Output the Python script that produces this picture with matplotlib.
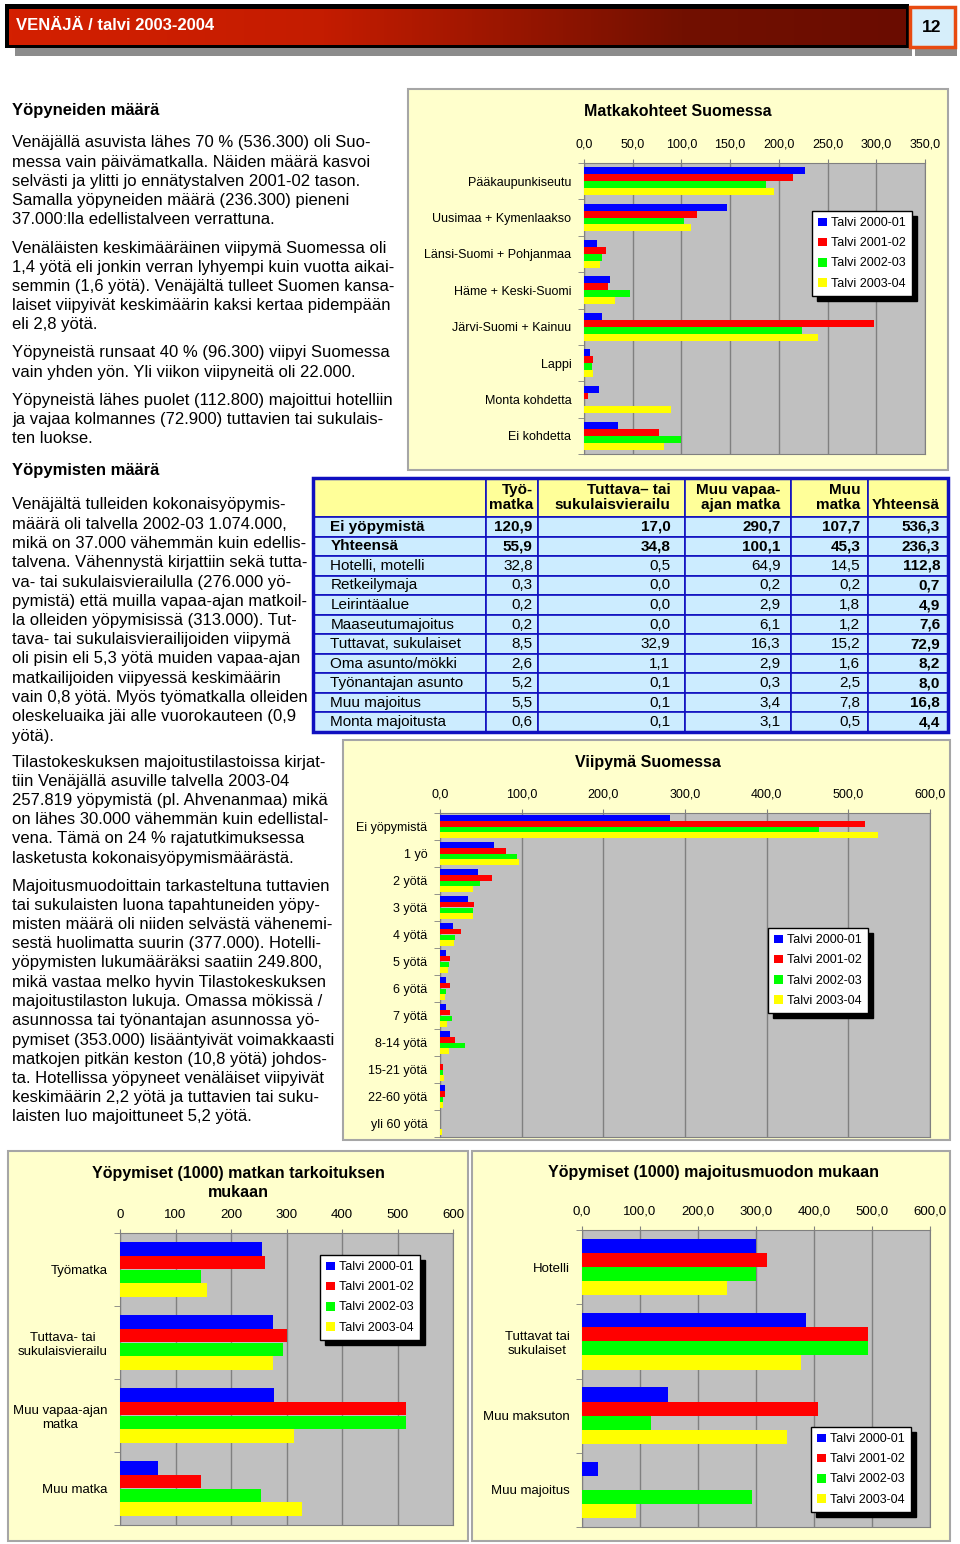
import numpy as np
import matplotlib
matplotlib.use('Agg')
import matplotlib.pyplot as plt
from matplotlib.patches import Rectangle
from matplotlib.colors import LinearSegmentedColormap
from matplotlib.ticker import FuncFormatter

plt.rcParams['font.family'] = ['Liberation Sans', 'DejaVu Sans']

W, H = 960, 1544

seasons = ['Talvi 2000-01', 'Talvi 2001-02', 'Talvi 2002-03', 'Talvi 2003-04']
season_colors = ['#0000FF', '#FF0000', '#00FF00', '#FFFF00']

# Matkakohteet Suomessa
dest_cats = ['Pääkaupunkiseutu', 'Uusimaa + Kymenlaakso', 'Länsi-Suomi + Pohjanmaa',
             'Häme + Keski-Suomi', 'Järvi-Suomi + Kainuu', 'Lappi', 'Monta kohdetta', 'Ei kohdetta']
dest_2000 = [226.6, 146.3, 13.8, 26.2, 18.4, 6.0, 15.2, 34.6]
dest_2001 = [214.6, 116.3, 23.0, 24.4, 297.3, 8.8, 4.6, 77.1]
dest_2002 = [187.3, 102.5, 18.0, 47.0, 223.4, 7.8, 0.0, 99.7]
dest_2003 = [195.1, 110.3, 16.6, 31.8, 240.0, 8.8, 89.8, 81.7]

# Viipymä Suomessa
stay_cats = ['Ei yöpymistä', '1 yö', '2 yötä', '3 yötä', '4 yötä', '5 yötä', '6 yötä',
             '7 yötä', '8-14 yötä', '15-21 yötä', '22-60 yötä', 'yli 60 yötä']
stay_2000 = [282.0, 66.6, 47.1, 34.2, 16.2, 7.1, 7.1, 7.1, 12.8, 0.0, 5.7, 0.0]
stay_2001 = [520.7, 80.8, 63.2, 41.4, 25.7, 12.8, 12.8, 12.8, 18.5, 3.8, 5.7, 0.0]
stay_2002 = [464.6, 93.7, 48.5, 40.9, 18.1, 11.4, 7.1, 14.7, 30.9, 3.8, 3.8, 0.0]
stay_2003 = [536.3, 96.3, 39.9, 39.9, 16.6, 10.0, 5.7, 9.0, 11.0, 4.5, 3.5, 3.0]

# Yöpymiset matkan tarkoituksen mukaan
purpose_cats = ['Työmatka', 'Tuttava- tai\nsukulaisvierailu', 'Muu vapaa-ajan\nmatka', 'Muu matka']
purpose_2000 = [256.2, 274.8, 277.2, 68.4]
purpose_2001 = [261.6, 301.8, 515.4, 145.2]
purpose_2002 = [145.2, 293.4, 515.4, 253.8]
purpose_2003 = [156.0, 276.0, 313.0, 328.2]

# Yöpymiset majoitusmuodon mukaan
acc_cats = ['Hotelli', 'Tuttavat tai\nsukulaiset', 'Muu maksuton', 'Muu majoitus']
acc_2000 = [300.6, 386.4, 148.8, 27.5]
acc_2001 = [318.9, 492.3, 407.0, 0.0]
acc_2002 = [300.6, 492.3, 118.5, 293.1]
acc_2003 = [249.8, 377.0, 353.0, 93.9]

# taulukko
table_cols = ['', 'Työ-\nmatka', 'Tuttava– tai\nsukulaisvierailu', 'Muu vapaa-\najan matka',
              'Muu\nmatka', '\nYhteensä']
table_rows = ['Ei yöpymistä', 'Yhteensä', 'Hotelli, motelli', 'Retkeilymaja', 'Leirintäalue',
              'Maaseutumajoitus', 'Tuttavat, sukulaiset', 'Oma asunto/mökki',
              'Työnantajan asunto', 'Muu majoitus', 'Monta majoitusta']
t_tyo = [120.9, 55.9, 32.8, 0.3, 0.2, 0.2, 8.5, 2.6, 5.2, 5.5, 0.6]
t_tuttava = [17.0, 34.8, 0.5, 0.0, 0.0, 0.0, 32.9, 1.1, 0.1, 0.1, 0.1]
t_vapaa = [290.7, 100.1, 64.9, 0.2, 2.9, 6.1, 16.3, 2.9, 0.3, 3.4, 3.1]
t_muu = [107.7, 45.3, 14.5, 0.2, 1.8, 1.2, 15.2, 1.6, 2.5, 7.8, 0.5]
t_yht = [536.3, 236.3, 112.8, 0.7, 4.9, 7.6, 72.9, 8.2, 8.0, 16.8, 4.4]

text_blocks = [
    (143, ['Venäjällä asuvista lähes 70 % (536.300) oli Suo-',
           'messa vain päivämatkalla. Näiden määrä kasvoi',
           'selvästi ja ylitti jo ennätystalven 2001-02 tason.',
           'Samalla yöpyneiden määrä (236.300) pieneni',
           '37.000:lla edellistalveen verrattuna.']),
    (248, ['Venäläisten keskimääräinen viipymä Suomessa oli',
           '1,4 yötä eli jonkin verran lyhyempi kuin vuotta aikai-',
           'semmin (1,6 yötä). Venäjältä tulleet Suomen kansa-',
           'laiset viipyivät keskimäärin kaksi kertaa pidempään',
           'eli 2,8 yötä.']),
    (353, ['Yöpyneistä runsaat 40 % (96.300) viipyi Suomessa',
           'vain yhden yön. Yli viikon viipyneitä oli 22.000.']),
    (400, ['Yöpyneistä lähes puolet (112.800) majoittui hotelliin',
           'ja vajaa kolmannes (72.900) tuttavien tai sukulais-',
           'ten luokse.']),
    (505, ['Venäjältä tulleiden kokonaisyöpymis-',
           'määrä oli talvella 2002-03 1.074.000,',
           'mikä on 37.000 vähemmän kuin edellis-',
           'talvena. Vähennystä kirjattiin sekä tutta-',
           'va- tai sukulaisvierailulla (276.000 yö-',
           'pymistä) että muilla vapaa-ajan matkoil-',
           'la olleiden yöpymisissä (313.000). Tut-',
           'tava- tai sukulaisvierailijoiden viipymä',
           'oli pisin eli 5,3 yötä muiden vapaa-ajan',
           'matkailijoiden viipyessä keskimäärin',
           'vain 0,8 yötä. Myös työmatkalla olleiden',
           'oleskeluaika jäi alle vuorokauteen (0,9',
           'yötä).']),
    (762, ['Tilastokeskuksen majoitustilastoissa kirjat-',
           'tiin Venäjällä asuville talvella 2003-04',
           '257.819 yöpymistä (pl. Ahvenanmaa) mikä',
           'on lähes 30.000 vähemmän kuin edellistal-',
           'vena. Tämä on 24 % rajatutkimuksessa',
           'lasketusta kokonaisyöpymismäärästä.']),
    (886, ['Majoitusmuodoittain tarkasteltuna tuttavien',
           'tai sukulaisten luona tapahtuneiden yöpy-',
           'misten määrä oli niiden selvästä vähenemi-',
           'sestä huolimatta suurin (377.000). Hotelli-',
           'yöpymisten lukumääräksi saatiin 249.800,',
           'mikä vastaa melko hyvin Tilastokeskuksen',
           'majoitustilaston lukuja. Omassa mökissä /',
           'asunnossa tai työnantajan asunnossa yö-',
           'pymiset (353.000) lisääntyivät voimakkaasti',
           'matkojen pitkän keston (10,8 yötä) johdos-',
           'ta. Hotellissa yöpyneet venäläiset viipyivät',
           'keskimäärin 2,2 yötä ja tuttavien tai suku-',
           'laisten luo majoittuneet 5,2 yötä.']),
]


def px_rect(x0, y0, x1, y1):
    return [x0 / W, 1 - y1 / H, (x1 - x0) / W, (y1 - y0) / H]


def comma1(v, p):
    return ('%.1f' % v).replace('.', ',')


def plain(v, p):
    return '%d' % v


fig = plt.figure(figsize=(W / 100, H / 100), dpi=100)
fig.patch.set_facecolor('white')

bg = fig.add_axes([0, 0, 1, 1], zorder=0)
bg.axis('off')

# otsikkopalkki
bg.add_patch(Rectangle((15, 48), 897, 8, facecolor='#8C8C8C', edgecolor='none'))
bg.add_patch(Rectangle((915, 48), 42, 8, facecolor='#8C8C8C', edgecolor='none'))
bg.add_patch(Rectangle((5, 4), 904, 44, facecolor='black', edgecolor='none', zorder=1))
cmap = LinearSegmentedColormap.from_list(
    'hdr', [(0, '#D42000'), (0.35, '#C41C00'), (0.75, '#721000'), (1, '#6A0C00')])
bg.imshow(np.linspace(0, 1, 256)[None, :], extent=(9, 906, 45, 9), cmap=cmap,
          aspect='auto', zorder=2)
bg.add_patch(Rectangle((910, 7), 45, 40, facecolor='#D6EEFA', edgecolor='#E84A10', lw=2.5, zorder=3))
bg.text(16, 26, 'VENÄJÄ / talvi 2003-2004', color='white', fontsize=12, fontweight='bold',
        va='center', zorder=4)
bg.text(932, 27, '12', color='black', fontsize=12.5, fontweight='bold',
        ha='center', va='center', zorder=4)

# vasen teksti
bg.text(12, 110, 'Yöpyneiden määrä', fontsize=12, fontweight='bold', va='center')
bg.text(12, 471, 'Yöpymisten määrä', fontsize=12, fontweight='bold', va='center')
for y0, lines in text_blocks:
    for i, line in enumerate(lines):
        bg.text(12, y0 + i * 19.25, line, fontsize=12, va='center')

# kaavioiden taustat
panels = [(408, 89, 948, 470), (343, 740, 950, 1140), (8, 1151, 468, 1541), (472, 1151, 950, 1541)]
for x0, y0, x1, y1 in panels:
    bg.add_patch(Rectangle((x0, y0), x1 - x0, y1 - y0, facecolor='#FFFFCC',
                           edgecolor='#A6A6A6', lw=1.5))

bg.text(678, 111, 'Matkakohteet Suomessa', fontsize=11.5, fontweight='bold', ha='center', va='center')
bg.text(648, 762, 'Viipymä Suomessa', fontsize=11.5, fontweight='bold', ha='center', va='center')
bg.text(238, 1183, 'Yöpymiset (1000) matkan tarkoituksen\nmukaan', fontsize=11.5, fontweight='bold',
        ha='center', va='center', linespacing=1.4)
bg.text(714, 1172, 'Yöpymiset (1000) majoitusmuodon mukaan', fontsize=11.5, fontweight='bold',
        ha='center', va='center')

bg.set_xlim(0, W)
bg.set_ylim(H, 0)


def bar_chart(rect, cats, series, xmax, step, fmt, fs, leg_xy, h=0.19):
    ax = fig.add_axes(px_rect(*rect), zorder=2)
    ax.set_facecolor('#C0C0C0')
    y = np.arange(len(cats))
    for i, vals in enumerate(series):
        ax.barh(y + (i - 1.5) * h, vals, height=h, color=season_colors[i],
                label=seasons[i], zorder=3)
    ax.set_xlim(0, xmax)
    ax.set_ylim(len(cats) - 0.5, -0.5)
    ax.set_xticks(np.arange(0, xmax + step / 2, step))
    ax.xaxis.set_major_formatter(FuncFormatter(fmt))
    ax.xaxis.tick_top()
    ax.grid(axis='x', color='#808080', lw=1)
    ax.set_axisbelow(True)
    ax.set_yticks(y)
    ax.set_yticklabels(cats, fontsize=fs, multialignment='center')
    ax.set_yticks(np.arange(len(cats) + 1) - 0.5, minor=True)
    ax.tick_params(axis='y', which='major', length=0, pad=9)
    ax.tick_params(axis='y', which='minor', length=4, color='#808080')
    ax.tick_params(axis='x', length=3, color='#808080', labelsize=fs, pad=6)
    for s in ax.spines.values():
        s.set_color('#808080')
    ax.legend(loc='upper left', bbox_to_anchor=(leg_xy[0] / W, 1 - leg_xy[1] / H),
              bbox_transform=fig.transFigure, fontsize=9, frameon=True, fancybox=False,
              edgecolor='black', facecolor='white', framealpha=1, borderaxespad=0,
              handlelength=0.7, handleheight=0.7, handletextpad=0.3, labelspacing=0.65,
              borderpad=0.5, shadow={'ox': 3.5, 'oy': -3.5, 'color': 'black', 'alpha': 1})
    return ax


bar_chart((584, 163, 925, 454), dest_cats, [dest_2000, dest_2001, dest_2002, dest_2003],
          350, 50, comma1, 9, (812, 211))
bar_chart((440, 813, 930, 1137), stay_cats, [stay_2000, stay_2001, stay_2002, stay_2003],
          600, 100, comma1, 9, (768, 928), h=0.21)
bar_chart((120, 1233, 453, 1525), purpose_cats, [purpose_2000, purpose_2001, purpose_2002, purpose_2003],
          600, 100, plain, 9.5, (320, 1255))
bar_chart((582, 1230, 930, 1527), acc_cats, [acc_2000, acc_2001, acc_2002, acc_2003],
          600, 100, comma1, 9.5, (811, 1427))

# taulukko
tax = fig.add_axes(px_rect(313, 478, 948, 732), zorder=2)
tax.axis('off')
cell_text = []
for i, name in enumerate(table_rows):
    vals = [t_tyo[i], t_tuttava[i], t_vapaa[i], t_muu[i], t_yht[i]]
    cell_text.append([name] + [('%.1f' % v).replace('.', ',') for v in vals])
col_w = [173, 52, 147, 106, 77, 80]
tbl = tax.table(cellText=cell_text, colLabels=table_cols, colWidths=[w / sum(col_w) for w in col_w],
                cellLoc='right', colLoc='right', bbox=[0, 0, 1, 1])
tbl.auto_set_font_size(False)
tbl.set_fontsize(11)
body_h = tbl[1, 0].get_height()
for (r, c), cell in tbl.get_celld().items():
    cell.set_edgecolor('#1010C0')
    cell.set_linewidth(1.2)
    if r == 0:
        cell.set_facecolor('#FFFF99')
        cell.set_height(2 * body_h)
        cell.set_text_props(fontweight='bold', linespacing=1.05)
    else:
        cell.set_facecolor('#CCECFF')
        if r <= 2 or c == 5:
            cell.set_text_props(fontweight='bold')
    if c == 0:
        cell.set_text_props(ha='left')
tax.add_patch(Rectangle((0, 0), 1, 1, transform=tax.transAxes, fill=False,
                        edgecolor='#1010C0', lw=2.5, zorder=10, clip_on=False))

fig.savefig('out.png', dpi=100)
